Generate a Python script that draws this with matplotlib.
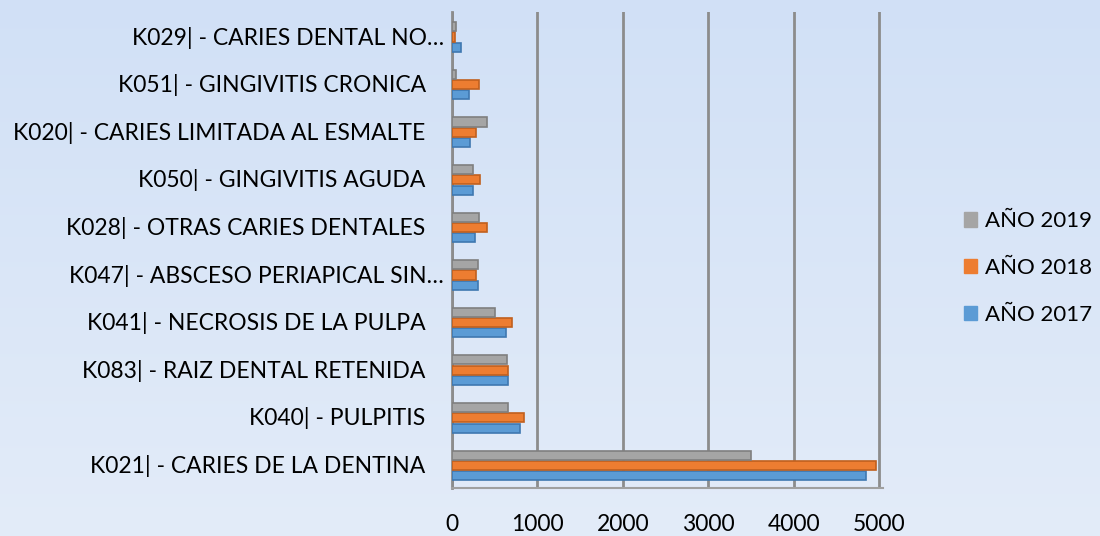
import matplotlib.pyplot as plt
import matplotlib.transforms as mtransforms
from matplotlib.patches import Patch
import numpy as np

# Categories from bottom to top, as drawn in the chart
categories = ['K021| - CARIES DE LA DENTINA', 'K040| - PULPITIS',
              'K083| - RAIZ DENTAL RETENIDA', 'K041| - NECROSIS DE LA PULPA',
              'K047| - ABSCESO PERIAPICAL SIN…', 'K028| - OTRAS CARIES DENTALES',
              'K050| - GINGIVITIS AGUDA', 'K020| - CARIES LIMITADA AL ESMALTE',
              'K051| - GINGIVITIS CRONICA', 'K029| - CARIES DENTAL NO…']
anio_2017 = [4850, 790, 650, 630, 300, 270, 250, 210, 200, 100]
anio_2018 = [4970, 840, 655, 700, 280, 410, 330, 280, 320, 30]
anio_2019 = [3500, 650, 645, 500, 305, 310, 240, 410, 45, 40]
series_names = ['AÑO 2017', 'AÑO 2018', 'AÑO 2019']
colors = ['#5b9bd5', '#ed7d31', '#a5a5a5']
edges = ['#3f78b0', '#c0601e', '#7f7f7f']
x_ticks = [0, 1000, 2000, 3000, 4000, 5000]

plt.rcParams['font.family'] = ['Lato', 'DejaVu Sans']

fig = plt.figure(figsize=(11, 5.36), dpi=100)

# light blue gradient background
bg = fig.add_axes([0, 0, 1, 1], zorder=-10)
grad = np.linspace(0, 1, 256).reshape(-1, 1)
top = np.array([0.82, 0.88, 0.965])
bot = np.array([0.89, 0.925, 0.975])
img = top + (bot - top) * grad[:, :, None]
bg.imshow(img, aspect='auto', extent=[0, 1, 0, 1])
bg.axis('off')

ax = fig.add_axes([0.411, 0.09, 0.392, 0.888])
ax.patch.set_alpha(0)

y = np.arange(len(categories))
h = 0.19
step = 0.215
for i, (vals, c, e) in enumerate(zip([anio_2017, anio_2018, anio_2019], colors, edges)):
    ax.barh(y + (i - 1) * step - 0.03, vals, h, color=c, edgecolor=e,
            linewidth=1.2, zorder=3)

ax.set_xlim(0, 5050)
ax.set_ylim(-0.5, len(categories) - 0.5)
ax.set_xticks(x_ticks)
ax.set_xticklabels([str(t) for t in x_ticks], fontsize=16.5)
ax.set_yticks(y)
ax.set_yticklabels(categories, fontsize=16.5)
ax.tick_params(axis='both', length=0)
ax.tick_params(axis='x', pad=19)
ax.tick_params(axis='y', pad=19)

# truncated labels sit a bit further right
for lab in ax.get_yticklabels():
    if lab.get_text().endswith('…'):
        lab.set_transform(lab.get_transform() +
                          mtransforms.ScaledTranslation(18 / 100, 0, fig.dpi_scale_trans))

ax.grid(axis='x', color='#8c8c8c', linewidth=2, zorder=0)
for s in ['top', 'right']:
    ax.spines[s].set_visible(False)
ax.spines['left'].set_color('#8c8c8c')
ax.spines['left'].set_linewidth(2)
ax.spines['bottom'].set_color('#a0a0a0')
ax.spines['bottom'].set_linewidth(1.5)

handles = [Patch(color=c) for c in colors][::-1]
fig.legend(handles, series_names[::-1], loc='center left',
           bbox_to_anchor=(0.858, 0.5), frameon=False, fontsize=16,
           handlelength=0.6, handleheight=0.6, labelspacing=1.2,
           handletextpad=0.35)

fig.savefig('out.png', dpi=100)
